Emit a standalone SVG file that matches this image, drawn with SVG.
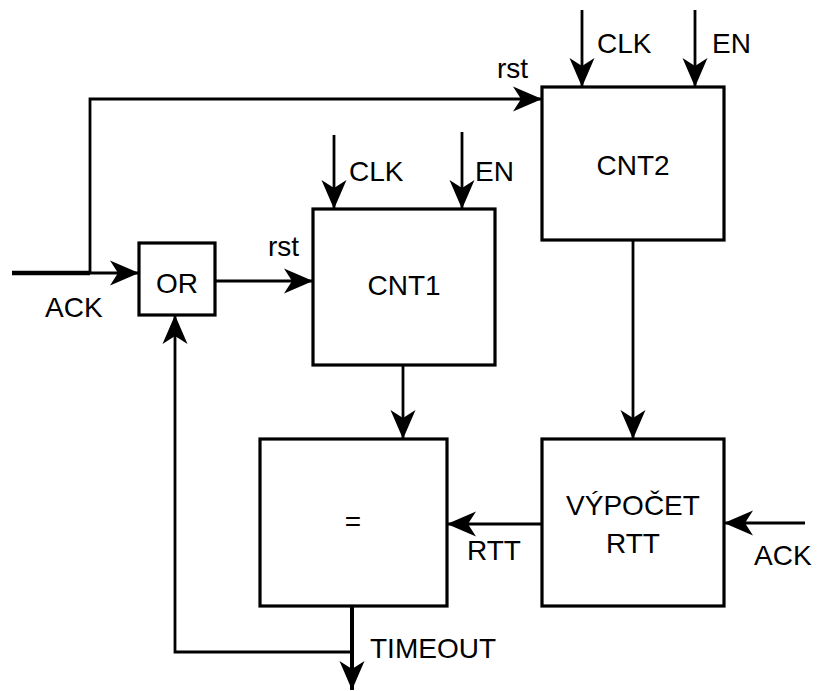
<svg xmlns="http://www.w3.org/2000/svg" width="819" height="691" viewBox="0 0 819 691">
<style>
.box{fill:#fff;stroke:#000;stroke-width:3.2}
.ln{fill:none;stroke:#000;stroke-width:2.8}
text{font-family:"Liberation Sans",Arial,sans-serif;font-size:28px;fill:#000}
.c{text-anchor:middle}
</style>
<defs>
<marker id="a" markerWidth="30" markerHeight="26" viewBox="-30 -13 30 26" refX="0" refY="0" orient="auto" markerUnits="userSpaceOnUse">
<path d="M0,0 L-29,-12.5 L-21,0 L-29,12.5 Z" fill="#000"/>
</marker>
</defs>
<rect width="819" height="691" fill="#fff"/>
<g id="connectors">
<path class="ln" d="M12,273 H90" style="stroke-width:4.5"/>
<path class="ln" d="M90,273 H139" marker-end="url(#a)"/>
<path class="ln" d="M90,273 V99 H542" marker-end="url(#a)"/>
<path class="ln" d="M215,281 H313" marker-end="url(#a)"/>
<path class="ln" d="M582,10 V87" marker-end="url(#a)"/>
<path class="ln" d="M695,10 V87" marker-end="url(#a)"/>
<path class="ln" d="M334,135 V209" marker-end="url(#a)"/>
<path class="ln" d="M462,132 V209" marker-end="url(#a)"/>
<path class="ln" d="M403,365 V439" marker-end="url(#a)"/>
<path class="ln" d="M633,240 V439" marker-end="url(#a)"/>
<path class="ln" d="M542,524 H447" marker-end="url(#a)"/>
<path class="ln" d="M805,523 H724" marker-end="url(#a)"/>
<path class="ln" d="M352,606 V690" style="stroke-width:4" marker-end="url(#a)"/>
<path class="ln" d="M352,652 H175 V315" marker-end="url(#a)"/>
</g>
<g id="or"><rect class="box" x="139" y="243" width="76" height="72"/><text class="c" x="177" y="293">OR</text></g>
<g id="cnt1"><rect class="box" x="313" y="209" width="182" height="156"/><text class="c" x="404" y="295">CNT1</text></g>
<g id="cnt2"><rect class="box" x="542" y="87" width="182" height="153"/><text class="c" x="633" y="175">CNT2</text></g>
<g id="eq"><rect class="box" x="260" y="439" width="187" height="167"/><text class="c" x="353" y="531">=</text></g>
<g id="rtt"><rect class="box" x="542" y="439" width="182" height="167"/><text class="c" x="633" y="515">VÝPOČET</text><text class="c" x="633" y="553">RTT</text></g>
<g id="labels">
<text x="497" y="78">rst</text>
<text x="597" y="53">CLK</text>
<text x="712" y="53">EN</text>
<text x="349" y="181">CLK</text>
<text x="475" y="181">EN</text>
<text x="268" y="256">rst</text>
<text x="45" y="317">ACK</text>
<text x="467" y="560">RTT</text>
<text x="754" y="565">ACK</text>
<text x="370" y="658">TIMEOUT</text>
</g>
</svg>
